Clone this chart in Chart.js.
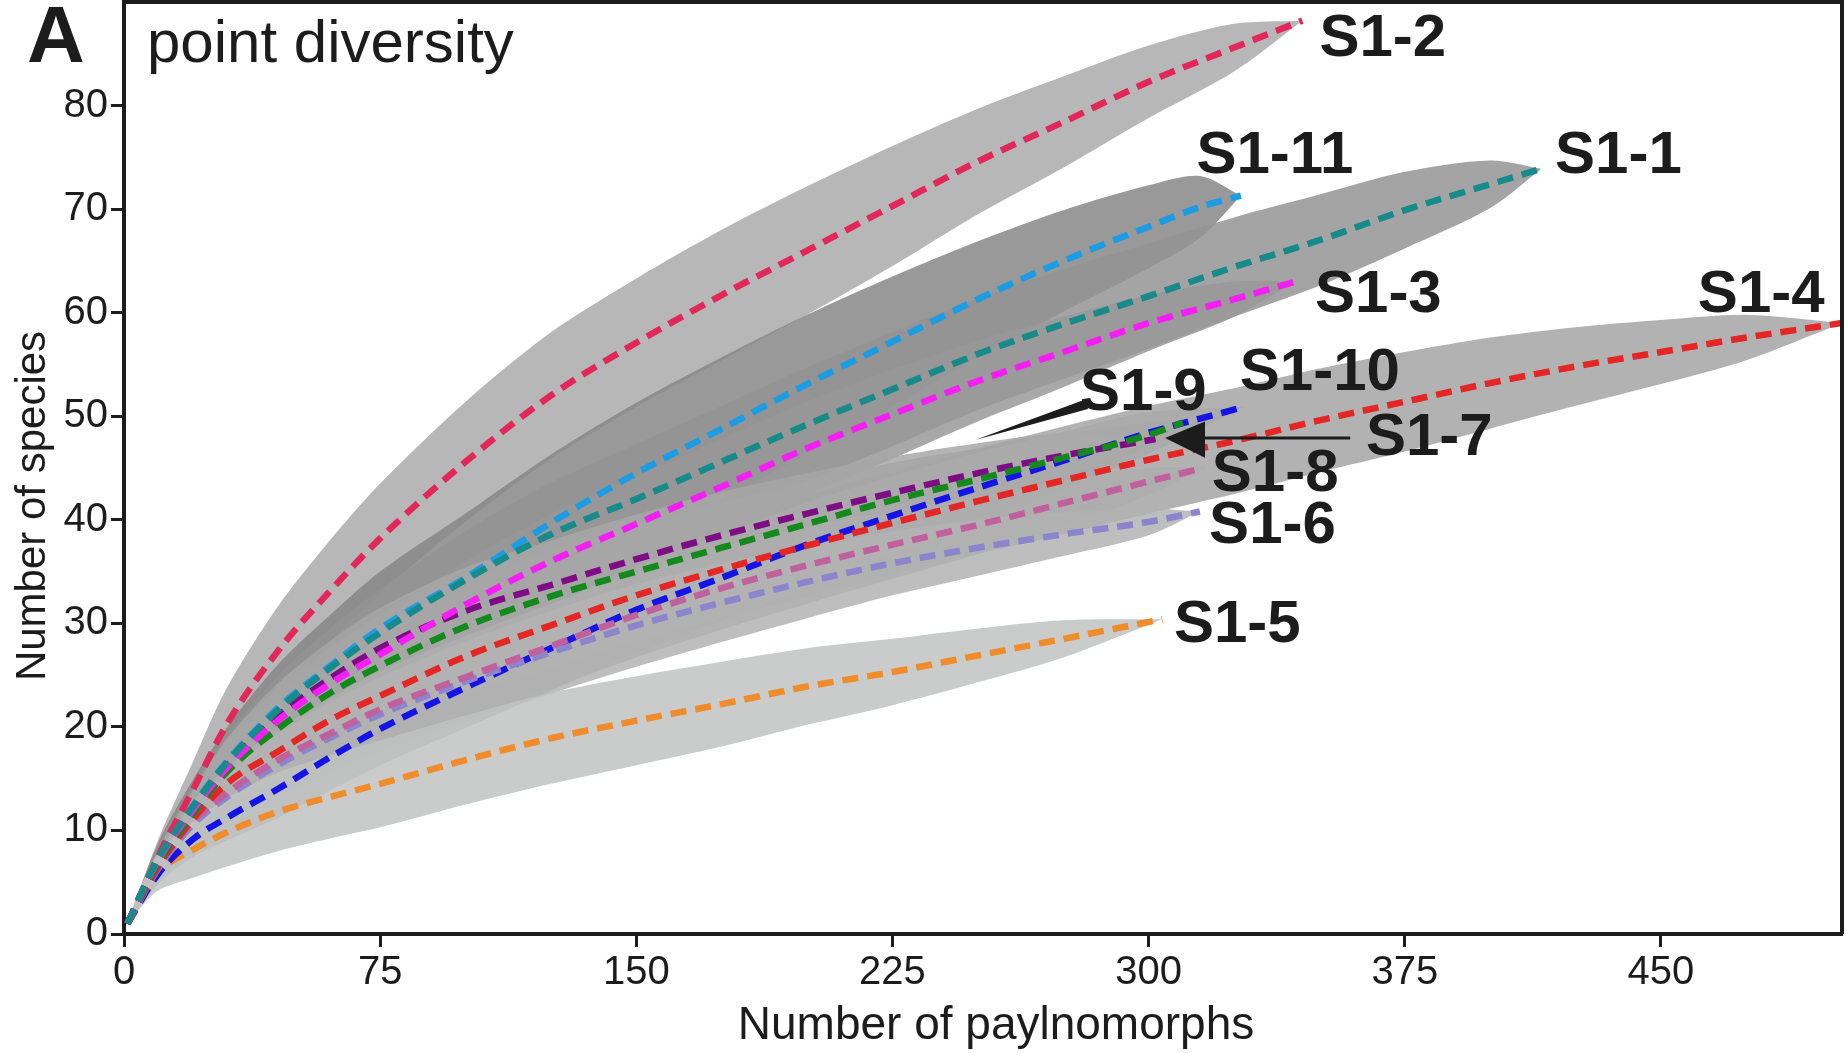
<!DOCTYPE html>
<html>
<head>
<meta charset="utf-8">
<title>point diversity</title>
<script src="https://cdn.jsdelivr.net/npm/chart.js@4.4.1/dist/chart.umd.min.js"></script>
<style>
  html, body { margin: 0; padding: 0; background: #fff; }
  canvas { display: block; }
</style>
</head>
<body>
<canvas id="chart" width="1846" height="1053"></canvas>
<script>
// rarefaction curves (x = paylnomorphs, y = species)
const x1 = [1, 10, 20, 30, 45, 60, 75, 100, 125, 150, 175, 200, 225, 250, 275, 300, 325, 350, 375, 400, 415];
const y1 = [1, 7.3, 12.2, 16.5, 21.6, 25.6, 29.1, 34.2, 38.6, 42.0, 45.6, 49.2, 52.6, 56.0, 58.9, 61.6, 64.4, 67.0, 69.9, 72.4, 73.9];
const h1 = [0, 1.2, 2.0, 2.6, 3.3, 3.8, 4.2, 4.7, 5.0, 5.3, 5.4, 5.5, 5.5, 5.4, 5.3, 5.1, 4.8, 4.4, 3.7, 2.3, 0];

const x2 = [1, 10, 20, 30, 45, 60, 75, 100, 125, 150, 175, 200, 225, 250, 275, 300, 325, 345];
const y2 = [1, 7.5, 13.8, 20.2, 27.3, 33.0, 38.2, 45.6, 52.0, 57.1, 61.7, 66.0, 70.3, 74.6, 78.4, 82.3, 85.6, 88.2];
const h2 = [0, 1.6, 2.7, 3.5, 4.3, 4.9, 5.3, 5.8, 6.1, 6.2, 6.3, 6.2, 5.8, 5.1, 4.4, 3.5, 2.3, 0];

const x3 = [1, 10, 20, 30, 45, 60, 75, 100, 125, 150, 175, 200, 225, 250, 275, 300, 325, 343];
const y3 = [1, 7.1, 11.9, 16.0, 20.6, 24.1, 27.0, 31.8, 36.0, 39.6, 43.2, 46.9, 50.2, 53.4, 56.2, 59.0, 61.3, 63.0];
const h3 = [0, 1.1, 1.9, 2.5, 3.1, 3.5, 3.8, 4.2, 4.5, 4.6, 4.6, 4.5, 4.3, 3.9, 3.4, 2.7, 1.7, 0];

const x4 = [1, 10, 20, 30, 45, 60, 75, 100, 125, 150, 175, 200, 225, 250, 275, 300, 325, 350, 375, 400, 425, 450, 475, 503];
const y4 = [1, 6.5, 11.0, 14.5, 17.6, 20.6, 23.0, 26.8, 29.8, 32.7, 35.2, 37.5, 39.7, 41.8, 43.8, 45.8, 47.6, 49.6, 51.4, 53.2, 54.8, 56.2, 57.6, 59.0];
const h4 = [0, 1.0, 1.6, 2.0, 2.5, 2.9, 3.2, 3.7, 4.1, 4.4, 4.7, 4.9, 5.0, 5.1, 5.2, 5.2, 5.1, 5.0, 4.8, 4.4, 3.8, 3.1, 2.2, 0];

const x5 = [1, 5, 10, 20, 30, 45, 60, 75, 100, 125, 150, 175, 200, 225, 250, 275, 304];
const y5 = [1, 3.6, 6.0, 8.1, 9.8, 11.8, 13.2, 14.5, 16.8, 18.9, 20.6, 22.2, 23.9, 25.3, 26.9, 28.5, 30.4];
const h5 = [0, 1.0, 1.8, 2.7, 3.3, 3.8, 4.0, 4.2, 4.3, 4.4, 4.3, 4.1, 3.7, 3.2, 2.6, 1.8, 0];

const x6 = [1, 10, 20, 30, 45, 60, 75, 100, 125, 150, 175, 200, 225, 250, 275, 300, 315];
const y6 = [1, 6.3, 10.5, 13.2, 16.3, 18.9, 21.2, 24.4, 27.2, 29.8, 32.0, 34.0, 35.8, 37.3, 38.6, 39.8, 40.8];
const h6 = [0, 1.2, 2.0, 2.5, 3.0, 3.4, 3.6, 3.9, 4.0, 4.0, 3.8, 3.5, 3.1, 2.7, 2.1, 1.3, 0];

const x7 = [1, 10, 20, 30, 45, 60, 75, 100, 125, 150, 175, 200, 225, 250, 275, 302];
const y7 = [1, 6.9, 11.8, 16.2, 21.0, 24.6, 27.6, 31.2, 33.7, 36.2, 38.5, 40.6, 42.6, 44.5, 46.2, 47.8];
const h7 = [0, 1.2, 2.0, 2.6, 3.2, 3.6, 3.9, 4.2, 4.3, 4.3, 4.2, 3.9, 3.5, 2.9, 2.1, 0];

const x8 = [1, 10, 20, 30, 45, 60, 75, 100, 125, 150, 175, 200, 225, 250, 275, 300, 316];
const y8 = [1, 6.5, 10.8, 13.6, 16.8, 19.3, 21.7, 24.8, 27.8, 30.8, 33.4, 35.6, 37.6, 39.5, 41.6, 43.7, 45.0];
const h8 = [0, 1.2, 2.0, 2.5, 3.0, 3.4, 3.7, 4.0, 4.1, 4.1, 4.0, 3.7, 3.3, 2.8, 2.2, 1.3, 0];

const x9 = [1, 10, 20, 30, 45, 60, 75, 100, 125, 150, 175, 200, 225, 250, 275, 300, 310];
const y9 = [1, 6.8, 11.5, 15.6, 19.8, 23.2, 25.9, 29.7, 32.6, 35.0, 37.3, 39.6, 41.9, 43.9, 46.0, 48.2, 49.4];
const h9 = [0, 1.2, 2.0, 2.6, 3.2, 3.6, 3.9, 4.2, 4.4, 4.4, 4.3, 4.0, 3.6, 3.0, 2.3, 1.2, 0];

const x10 = [1, 10, 20, 30, 45, 60, 75, 100, 125, 150, 175, 200, 225, 250, 275, 300, 328];
const y10 = [1, 5.8, 9.1, 11.2, 14.0, 17.0, 19.8, 23.8, 27.6, 31.3, 34.4, 37.6, 40.4, 43.1, 45.7, 48.4, 50.9];
const h10 = [0, 1.0, 1.7, 2.2, 2.8, 3.2, 3.5, 3.9, 4.1, 4.2, 4.2, 4.1, 3.8, 3.4, 2.8, 2.0, 0];

const x11 = [1, 10, 20, 30, 45, 60, 75, 100, 125, 150, 175, 200, 225, 250, 275, 300, 315, 327];
const y11 = [1, 7.3, 12.3, 16.6, 21.8, 25.8, 29.5, 34.4, 39.7, 44.5, 48.8, 53.1, 57.2, 61.3, 65.0, 68.3, 70.2, 71.3];
const h11 = [0, 1.5, 2.5, 3.3, 4.2, 4.9, 5.5, 6.2, 6.6, 6.8, 6.9, 6.7, 6.3, 5.6, 4.9, 4.0, 3.0, 0];

const xTicks = [0, 75, 150, 225, 300, 375, 450];
const yTicks = [0, 10, 20, 30, 40, 50, 60, 70, 80];

// name -> arrays
const curves = {
  "S1-1": [x1, y1, h1], "S1-2": [x2, y2, h2], "S1-3": [x3, y3, h3],
  "S1-4": [x4, y4, h4], "S1-5": [x5, y5, h5], "S1-6": [x6, y6, h6],
  "S1-7": [x7, y7, h7], "S1-8": [x8, y8, h8], "S1-9": [x9, y9, h9],
  "S1-10": [x10, y10, h10], "S1-11": [x11, y11, h11],
};

// styling
const lineColors = {
  "S1-1": "#178a8a", "S1-2": "#e2285a", "S1-3": "#f51ef5", "S1-4": "#e42624",
  "S1-5": "#f08c2a", "S1-6": "#8c84cc", "S1-7": "#7e0c84", "S1-8": "#c0609c",
  "S1-9": "#14891c", "S1-10": "#1414e6", "S1-11": "#1c9ce2",
};
const bandColors = {
  "S1-2": "rgba(170,170,170,0.85)", "S1-11": "rgba(135,135,135,0.85)",
  "S1-1": "rgba(148,148,148,0.85)", "S1-3": "rgba(153,153,153,0.85)",
  "S1-4": "rgba(165,165,165,0.85)", "S1-9": "rgba(164,164,164,0.85)",
  "S1-7": "rgba(167,167,167,0.85)", "S1-10": "rgba(170,170,170,0.85)",
  "S1-8": "rgba(174,174,174,0.85)", "S1-6": "rgba(179,179,179,0.85)",
  "S1-5": "rgba(191,195,194,0.85)",
};
// back to front
const bandOrder = ["S1-2", "S1-11", "S1-1", "S1-3", "S1-4", "S1-9", "S1-7", "S1-10", "S1-8", "S1-6", "S1-5"];
// top to bottom
const lineOrder = ["S1-1", "S1-2", "S1-3", "S1-9", "S1-7", "S1-4", "S1-8", "S1-6", "S1-10", "S1-11", "S1-5"];

// label anchors in data units (left edge, vertical centre)
const labelPos = {
  "S1-2": [350, 86.4], "S1-11": [314, 75.1], "S1-1": [419, 75.1],
  "S1-3": [348.7, 61.7], "S1-4": [460.8, 61.7], "S1-10": [326.7, 54.1],
  "S1-9": [279.9, 52.2], "S1-7": [363.6, 47.9], "S1-8": [318.5, 44.4],
  "S1-6": [317.7, 39.4], "S1-5": [307.4, 29.8],
};

const FONT = "'Liberation Sans', Arial, Helvetica, sans-serif";
const INK = "#1c1c1c";

function bandPoints(xs, ys, hs) {
  const up = xs.map((x, i) => ({ x: x, y: ys[i] + hs[i] }));
  const lo = xs.map((x, i) => ({ x: x, y: ys[i] - hs[i] })).reverse();
  return up.concat(lo);
}

const datasets = [];
lineOrder.forEach((name) => {
  const [xs, ys] = curves[name];
  datasets.push({
    label: name,
    data: xs.map((x, i) => ({ x: x, y: ys[i] })),
    borderColor: lineColors[name],
    borderWidth: 6.5,
    borderDash: [16, 9],
    pointRadius: 0,
    fill: false,
    cubicInterpolationMode: "monotone",
    order: 0,
  });
});
bandOrder.forEach((name, k) => {
  const [xs, ys, hs] = curves[name];
  datasets.push({
    label: name + " band",
    data: bandPoints(xs, ys, hs),
    borderColor: "rgba(0,0,0,0)",
    borderWidth: 0,
    backgroundColor: bandColors[name],
    pointRadius: 0,
    fill: "shape",
    tension: 0.3,
    order: bandOrder.length - k,
  });
});

const annotations = {
  id: "annotations",
  afterDraw(chart) {
    const { ctx, chartArea: a, scales } = chart;
    const px = (v) => scales.x.getPixelForValue(v);
    const py = (v) => scales.y.getPixelForValue(v);
    ctx.save();

    // frame: top and right edges
    ctx.strokeStyle = INK;
    ctx.lineWidth = 4;
    ctx.beginPath();
    ctx.moveTo(a.left - 2, a.top);
    ctx.lineTo(a.right, a.top);
    ctx.lineTo(a.right, a.bottom);
    ctx.stroke();

    // arrow to S1-7
    ctx.lineWidth = 3;
    ctx.beginPath();
    ctx.moveTo(px(359), py(47.9));
    ctx.lineTo(px(312), py(47.9));
    ctx.stroke();
    ctx.fillStyle = INK;
    ctx.beginPath();
    ctx.moveTo(px(304.8), py(47.9));
    ctx.lineTo(px(316.5), py(49.5));
    ctx.lineTo(px(316.5), py(46.0));
    ctx.closePath();
    ctx.fill();

    // thin pointer from S1-9
    ctx.beginPath();
    ctx.moveTo(px(282.2), py(51.7));
    ctx.lineTo(px(282.2), py(50.7));
    ctx.lineTo(px(249.2), py(47.7));
    ctx.closePath();
    ctx.fill();

    // series labels
    ctx.fillStyle = INK;
    ctx.textBaseline = "middle";
    ctx.textAlign = "left";
    ctx.font = "bold 60px " + FONT;
    Object.keys(labelPos).forEach((name) => {
      const [lx, ly] = labelPos[name];
      ctx.fillText(name, px(lx), py(ly));
    });

    // panel letter and title
    ctx.textBaseline = "alphabetic";
    ctx.font = "bold 80px " + FONT;
    ctx.fillText("A", 27, 62);
    ctx.font = "60px " + FONT;
    ctx.fillText("point diversity", 147, 62);

    // axis titles
    ctx.textAlign = "center";
    ctx.textBaseline = "middle";
    ctx.font = "46px " + FONT;
    ctx.fillText("Number of paylnomorphs", 996, 1026);
    ctx.save();
    ctx.translate(33, 506);
    ctx.rotate(-Math.PI / 2);
    ctx.font = "42px " + FONT;
    ctx.fillText("Number of species", 0, 0);
    ctx.restore();

    ctx.restore();
  },
};

new Chart(document.getElementById("chart").getContext("2d"), {
  type: "line",
  data: { datasets: datasets },
  options: {
    responsive: false,
    animation: false,
    devicePixelRatio: 1,
    layout: { padding: { left: 0, right: 4, top: 2, bottom: 0 } },
    plugins: { legend: { display: false }, tooltip: { enabled: false } },
    scales: {
      x: {
        type: "linear",
        min: 0,
        max: 503,
        afterBuildTicks: (s) => { s.ticks = xTicks.map((v) => ({ value: v })); },
        afterFit: (s) => { s.height = 119; s.paddingLeft = 0; s.paddingRight = 0; },
        grid: { drawOnChartArea: false, drawTicks: true, tickLength: 13, tickWidth: 3, tickColor: INK },
        border: { display: true, width: 4, color: INK },
        ticks: { font: { family: FONT, size: 40 }, color: INK, padding: 2, maxRotation: 0, autoSkip: false },
      },
      y: {
        type: "linear",
        min: 0,
        max: 90,
        afterBuildTicks: (s) => { s.ticks = yTicks.map((v) => ({ value: v })); },
        afterFit: (s) => { s.width = 124; s.paddingTop = 0; s.paddingBottom = 0; },
        grid: { drawOnChartArea: false, drawTicks: true, tickLength: 13, tickWidth: 3, tickColor: INK },
        border: { display: true, width: 4, color: INK },
        ticks: { font: { family: FONT, size: 40 }, color: INK, padding: 3 },
      },
    },
  },
  plugins: [annotations],
});
</script>
</body>
</html>
